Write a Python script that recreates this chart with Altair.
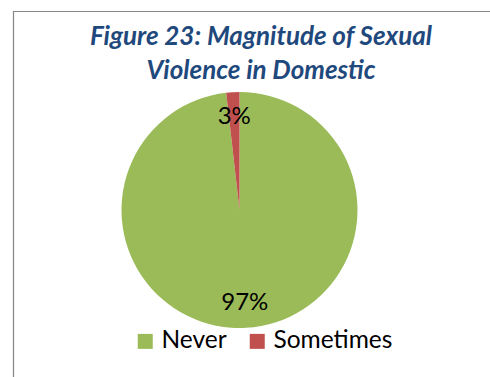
import altair as alt
import pandas as pd

categories = ["Never", "Sometimes"]
shares = [98.2, 1.8]
label_texts = ["97%", "3%"]
colors = ["#9BBB59", "#C0504D"]
title_lines = ["Figure 23: Magnitude of Sexual", "Violence in Domestic"]

df = pd.DataFrame({
    "category": categories,
    "share": shares,
    "label": label_texts,
    "order": list(range(len(categories))),
})

W, H = 490, 377
CX, CY, R = 239.5, 210, 118
FONT = "Lato"

base = alt.Chart(df).encode(
    theta=alt.Theta("share:Q", stack=True),
    order=alt.Order("order:Q"),
)

pie = base.mark_arc(radius=R, x=CX, y=CY, stroke=None).encode(
    color=alt.Color(
        "category:N",
        scale=alt.Scale(domain=categories, range=colors),
        sort=categories,
        legend=alt.Legend(
            title=None,
            orient="none",
            direction="horizontal",
            legendX=133,
            legendY=329,
            symbolType="square",
            symbolSize=225,
            symbolStrokeWidth=0,
            symbolOpacity=1,
            labelFontSize=24.5,
            labelFont=FONT,
            labelColor="#000000",
            labelOffset=4,
            columnPadding=18,
            labelLimit=300,
        ),
    )
)

labels = base.mark_text(
    radius=93, x=CX, y=CY, font=FONT, fontSize=24, color="#000000",
    align="center", baseline="middle",
).encode(text="label:N")

title_layers = []
for line, ypos in zip(title_lines, [45, 79]):
    t = alt.Chart(pd.DataFrame({"line": [line]})).mark_text(
        font=FONT, fontSize=26, fontWeight="bold", fontStyle="italic",
        color="#1F497D", align="center", baseline="alphabetic",
    ).encode(text="line:N", x=alt.value(261), y=alt.value(ypos))
    title_layers.append(t)

frame = alt.Chart(pd.DataFrame({"a": [0]})).mark_rect(
    fill=None, stroke="#868686", strokeWidth=1.2
).encode(
    x=alt.value(13.5), x2=alt.value(700), y=alt.value(11.5), y2=alt.value(700)
)

chart = alt.layer(frame, pie, labels, *title_layers).properties(
    width=W, height=H, padding=0, autosize=alt.AutoSizeParams(type="none"),
    background="white",
).configure_view(stroke=None)

chart.save("out.html", embed_options={"renderer": "svg", "actions": False})
